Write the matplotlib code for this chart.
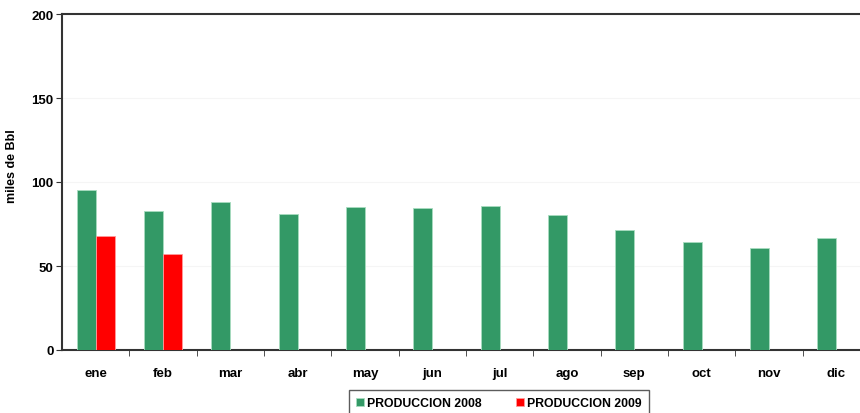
import matplotlib
matplotlib.use("Agg")
import matplotlib.pyplot as plt
import numpy as np

months = ["ene", "feb", "mar", "abr", "may", "jun", "jul", "ago", "sep", "oct", "nov", "dic"]
prod_2008 = [95.2, 82.7, 88.1, 81.2, 85.1, 84.4, 85.7, 80.2, 71.7, 64.3, 60.6, 66.7]
prod_2009 = [67.9, 57.1]
yticks = [0, 50, 100, 150, 200]

plt.rcParams['font.family'] = ['Liberation Sans', 'DejaVu Sans']
plt.rcParams['font.weight'] = 'bold'

fig = plt.figure(figsize=(8.6, 4.14), dpi=100)
ax = fig.add_axes([62/860, 63/414, 808/860, 336/414])

x = np.arange(len(months))
w = 0.28
green = "#339966"
red = "#ff0000"
ax.bar(x - w/2, prod_2008, width=w, color=green, edgecolor="#a8dcc0", linewidth=0.6,
       label="PRODUCCION 2008", zorder=3)
ax.bar(np.arange(len(prod_2009)) + w/2, prod_2009, width=w, color=red, edgecolor="#ff9a9a",
       linewidth=0.6, label="PRODUCCION 2009", zorder=3)

ax.set_xlim(-0.5, len(months) - 0.5)
ax.set_ylim(0, 200)
ax.set_yticks(yticks)
ax.set_yticklabels([str(v) for v in yticks], fontsize=9.5, fontweight='bold')
ax.set_xticks(x)
ax.set_xticklabels(months, fontsize=9.5, fontweight='bold')
ax.set_xticks(np.arange(len(months)) + 0.5, minor=True)
ax.tick_params(axis='x', which='major', length=0, pad=12)
ax.tick_params(axis='x', which='minor', length=4, direction='out', color='#333333')
ax.tick_params(axis='y', length=4, direction='out', color='#333333', pad=2)

for y in yticks[1:-1]:
    ax.axhline(y, color='#f5f5f5', linewidth=0.8, zorder=1)

for s in ['left', 'top', 'bottom']:
    ax.spines[s].set_color('#333333')
    ax.spines[s].set_linewidth(1.5)
ax.spines['right'].set_visible(False)

ax.set_ylabel("miles de Bbl", fontsize=9, fontweight='bold')
ax.yaxis.set_label_coords(-0.054, 0.55)

leg = fig.legend(loc='upper left', bbox_to_anchor=(349/860, 1 - 391/414), ncol=2,
                 frameon=True, fancybox=False, edgecolor='#333333',
                 prop={'size': 8.8, 'weight': 'bold'}, handlelength=0.6, handleheight=0.6,
                 handletextpad=0.3, columnspacing=2.8, borderpad=0.6, borderaxespad=0)
leg.get_frame().set_linewidth(1.0)

fig.savefig("out.png", dpi=100)
